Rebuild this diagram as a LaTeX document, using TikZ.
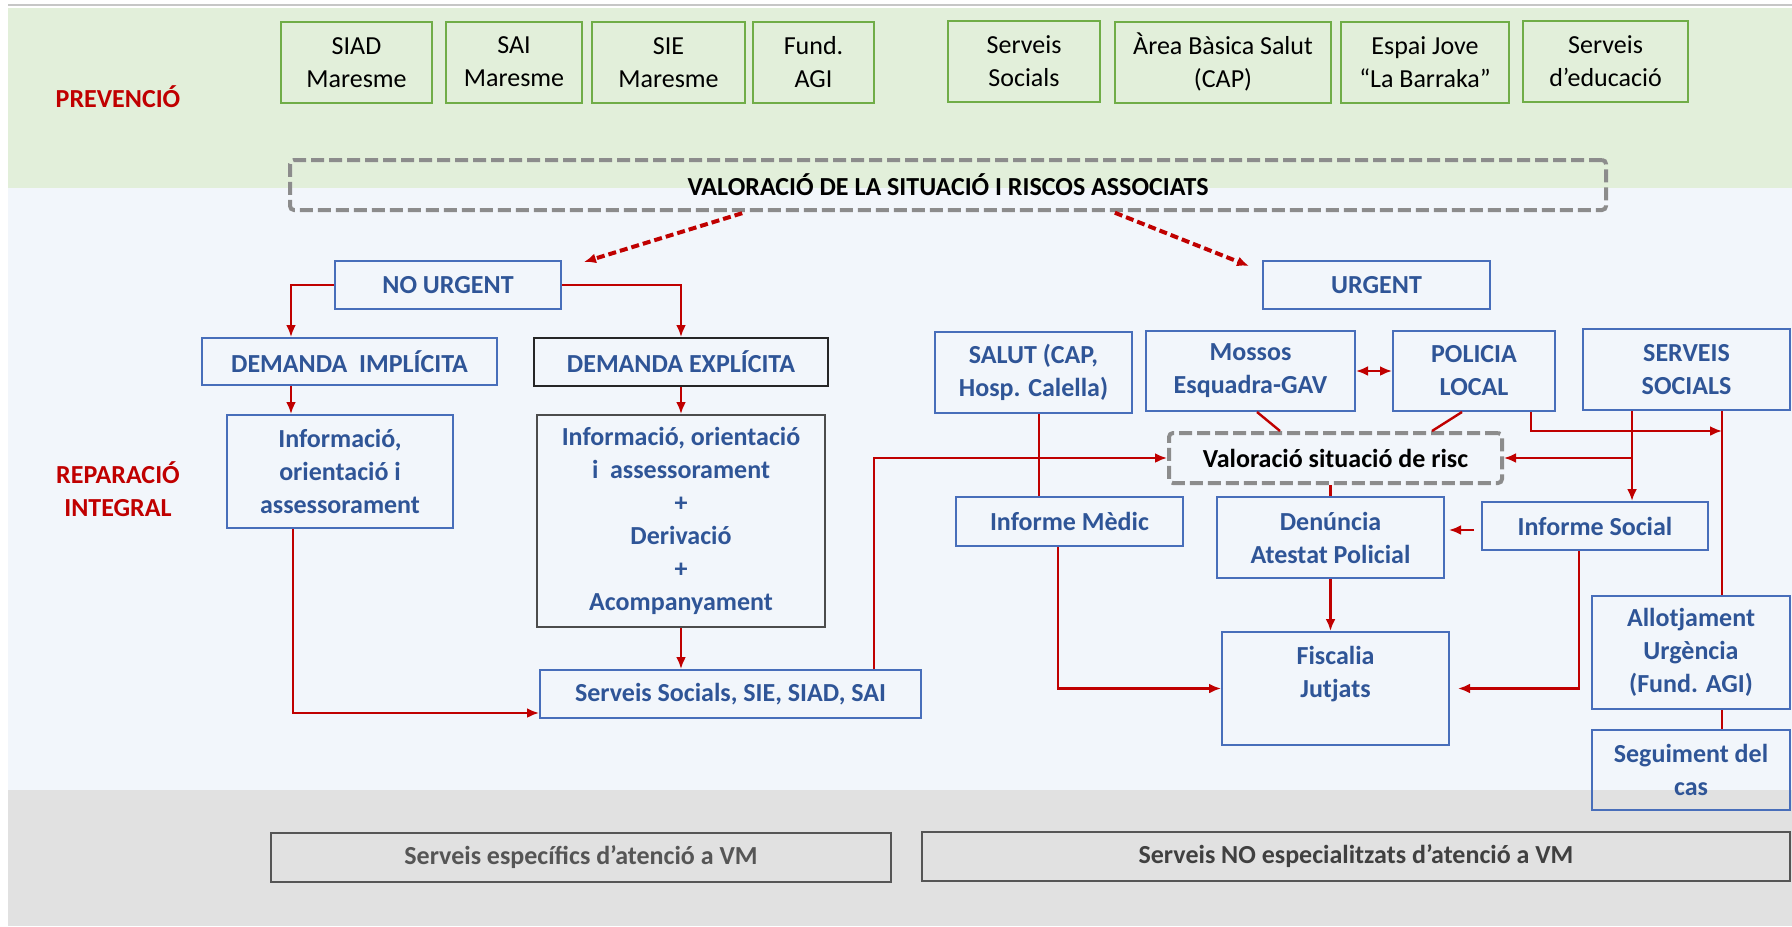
\documentclass[tikz,border=0pt]{standalone}
\usepackage{fontspec}
\setmainfont{Carlito}
\usetikzlibrary{arrows.meta}
\definecolor{verdfons}{RGB}{226,239,218}
\definecolor{blaufons}{RGB}{242,246,251}
\definecolor{grisfons}{RGB}{225,225,225}
\definecolor{verdvora}{RGB}{112,173,71}
\definecolor{blauvora}{RGB}{72,110,186}
\definecolor{blautext}{RGB}{47,85,151}
\definecolor{vermell}{RGB}{192,0,0}
\definecolor{grisdash}{RGB}{140,140,140}
\definecolor{gristext}{RGB}{85,85,85}

\begin{document}
\begin{tikzpicture}[>={Latex[length=6pt,width=5pt]}, x=0.5pt, y=-0.5pt,
	every node/.style={font=\fontsize{13}{16.5}\selectfont, align=center, inner sep=0pt},
	verda/.style={draw=verdvora, line width=1pt, minimum height=40.5pt},
	caixa/.style={draw=blauvora, line width=1pt, text=blautext, font=\fontsize{13}{16.5}\selectfont\bfseries},
	discont/.style={draw=grisdash, line width=2pt, dash pattern=on 6.5pt off 2.5pt, rounded corners=2pt, font=\fontsize{13}{16.5}\selectfont\bfseries},
	peu/.style={draw=gristext, line width=1pt, text=gristext, minimum height=24.5pt, font=\fontsize{13}{16.5}\selectfont\bfseries},
	fletxa/.style={draw=vermell, line width=1.2pt, ->},
	linia/.style={draw=vermell, line width=1.2pt},
	]
	\useasboundingbox (0,0) rectangle (1792,926);
	% franges
	\fill[verdfons] (8,8) rectangle (1792,188);
	\fill[blaufons] (8,188) rectangle (1792,790);
	\fill[grisfons] (8,790) rectangle (1792,926);
	\draw[gray!45, line width=1pt] (8,5) -- (1792,5);

	\node[text=vermell, font=\fontsize{13}{16.5}\selectfont\bfseries] (prev) at (118,97) {PREVENCIÓ};
	\node[text=vermell, font=\fontsize{13}{16.5}\selectfont\bfseries] (repar) at (118,489) {REPARACIÓ\\INTEGRAL};

	% prevencio
	\node[verda, minimum width=75.5pt] (siad) at (356.5,62.5) {SIAD\\Maresme};
	\node[verda, minimum width=68pt] (sai) at (514,62) {SAI\\Maresme};
	\node[verda, minimum width=76.5pt] (sie) at (668.5,62.5) {SIE\\Maresme};
	\node[verda, minimum width=60.5pt] (fund) at (813.5,62.5) {Fund.\\AGI};
	\node[verda, minimum width=76pt] (ssoc) at (1024,61) {Serveis\\Socials};
	\node[verda, minimum width=108pt] (abs) at (1223,62) {Àrea Bàsica Salut\\(CAP)};
	\node[verda, minimum width=84pt] (jove) at (1425,62) {Espai Jove\\“La Barraka”};
	\node[verda, minimum width=82.5pt] (educ) at (1605.5,61) {Serveis\\d’educació};

	\node[discont, minimum width=658pt, minimum height=25pt] (valor) at (948,185) {VALORACIÓ DE LA SITUACIÓ I RISCOS ASSOCIATS};

	% no urgent
	\node[caixa, minimum width=113pt, minimum height=24pt] (nourg) at (448,285) {NO URGENT};
	\node[caixa, minimum width=147.5pt, minimum height=23.5pt] (dimp) at (349.5,361.5) {DEMANDA\ \ IMPLÍCITA};
	\node[caixa, draw=black!85, minimum width=147pt, minimum height=24pt] (dexp) at (681,362) {DEMANDA EXPLÍCITA};
	\node[caixa, minimum width=113pt, minimum height=56.5pt] (infimp) at (340,471.5) {Informació,\\orientació i\\assessorament};
	\node[caixa, draw=black!70, minimum width=144pt, minimum height=106pt] (infexp) at (681,521) {Informació, orientació\\i\ \ assessorament\\+\\Derivació\\+\\Acompanyament};
	\node[caixa, minimum width=190.5pt, minimum height=24pt] (ssie) at (730.5,694) {Serveis Socials, SIE, SIAD, SAI};

	% urgent
	\node[caixa, minimum width=113.5pt, minimum height=24pt] (urg) at (1376.5,285) {URGENT};
	\node[caixa, minimum width=98.5pt, minimum height=40.5pt] (salut) at (1033.5,372.5) {SALUT (CAP,\\Hosp. Calella)};
	\node[caixa, minimum width=104.5pt, minimum height=40pt] (mossos) at (1250.5,371) {Mossos\\Esquadra-GAV};
	\node[caixa, minimum width=81pt, minimum height=40pt] (policia) at (1474,371) {POLICIA\\LOCAL};
	\node[caixa, minimum width=103.5pt, minimum height=40.5pt] (sserv) at (1686.5,369.5) {SERVEIS\\SOCIALS};
	\node[discont, minimum width=166.5pt, minimum height=25pt] (valrisc) at (1335.5,458) {Valoració situació de risc};
	\node[caixa, minimum width=113.5pt, minimum height=24.5pt] (imed) at (1069.5,521.5) {Informe Mèdic};
	\node[caixa, minimum width=113.5pt, minimum height=40.5pt] (denun) at (1330.5,537.5) {Denúncia\\Atestat Policial};
	\node[caixa, minimum width=113pt, minimum height=24pt] (isoc) at (1595,526) {Informe Social};
	\node[caixa, minimum width=113.5pt, minimum height=56.5pt] (fisc) at (1335.5,688.5) {Fiscalia\\Jutjats\\\mbox{}};
	\node[caixa, minimum width=99pt, minimum height=56.5pt] (allotj) at (1691,652.5) {Allotjament\\Urgència\\(Fund. AGI)};
	\node[caixa, minimum width=99pt, minimum height=40pt] (segui) at (1691,770) {Seguiment del\\cas};

	% peu
	\node[peu, minimum width=310pt] (espec) at (581,857.5) {Serveis específics d’atenció a VM};
	\node[peu, text=black!75, minimum width=434pt] (noesp) at (1356,856) {Serveis NO especialitzats d’atenció a VM};

	% fletxes
	\draw[fletxa, line width=2pt, dash pattern=on 4pt off 2pt, shorten <=2pt] (746,0 |- valor.south) -- ([xshift=11pt,yshift=-1pt]nourg.north east);
	\draw[fletxa, line width=2pt, dash pattern=on 4pt off 2pt, shorten <=1pt] (1113,0 |- valor.south) -- ([xshift=-6.5pt,yshift=-3pt]urg.north west);

	\draw[fletxa] (nourg.west) -| (291,0 |- dimp.north);
	\draw[fletxa] (nourg.east) -| (dexp.north);
	\draw[fletxa] (291,0 |- dimp.south) -- (291,0 |- infimp.north);
	\draw[fletxa] (dexp.south) -- (infexp.north);
	\draw[fletxa] (infexp.south) -- (infexp.south |- ssie.north);
	\draw[fletxa] (293,0 |- infimp.south) |- (ssie.west |- 0,713);
	\draw[fletxa] (874,0 |- ssie.north) |- (valrisc.west);

	\draw[linia] (1039,0 |- salut.south) -- (1039,0 |- imed.north);
	\draw[fletxa, <->] (mossos.east) -- (policia.west);
	\draw[linia] (1257,0 |- mossos.south) -- (1280,0 |- valrisc.north);
	\draw[linia] (1462,0 |- policia.south) -- (1432,0 |- valrisc.north);
	\draw[fletxa] (1531,0 |- policia.south) |- (1722,0 |- valrisc.north);
	\draw[fletxa] (1632,0 |- sserv.south) -- (1632,0 |- isoc.north);
	\draw[fletxa] (1632,0 |- valrisc.east) -- (valrisc.east);
	\draw[linia] (1722,0 |- sserv.south) -- (1722,0 |- allotj.north);
	\draw[linia] (1722,0 |- allotj.south) -- (1722,0 |- segui.north);
	\draw[linia] (valrisc.south -| denun.north) -- (denun.north);
	\draw[fletxa, shorten <=3.5pt, shorten >=2pt] (isoc.west |- 0,530) -- (denun.east |- 0,530);
	\draw[fletxa] (denun.south) -- (denun.south |- fisc.north);
	\draw[fletxa] (1058,0 |- imed.south) |- (fisc.west);
	\draw[fletxa, shorten >=4pt] (1579,0 |- isoc.south) |- (fisc.east);
\end{tikzpicture}
\end{document}
